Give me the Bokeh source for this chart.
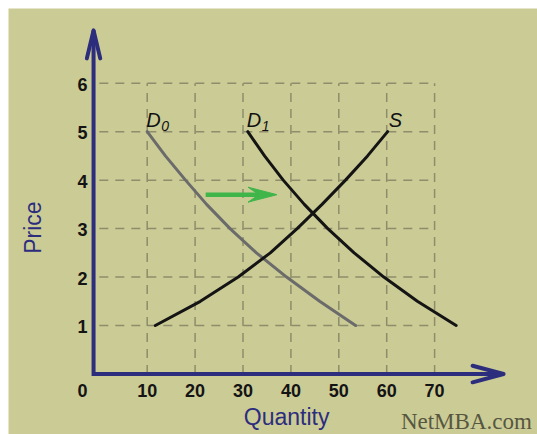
from bokeh.plotting import figure
from bokeh.models import Range1d
from bokeh.core.properties import value
from bokeh.embed import file_html
from bokeh.resources import INLINE

# ---------------- data ----------------
D0_Q = [10.0, 13.8, 18.0, 22.4, 27.3, 32.8, 39.1, 46.0, 53.5]
D0_P = [5.0, 4.5, 4.0, 3.5, 3.0, 2.5, 2.0, 1.5, 1.0]
D1_Q = [31.0, 34.5, 38.4, 42.8, 47.7, 53.2, 59.4, 66.4, 74.5]
D1_P = [5.0, 4.5, 4.0, 3.5, 3.0, 2.5, 2.0, 1.5, 1.0]
S_Q = [11.7, 21.1, 29.0, 35.7, 41.3, 46.5, 51.4, 56.0, 60.2]
S_P = [1.0, 1.5, 2.0, 2.5, 3.0, 3.5, 4.0, 4.5, 5.0]

X_TICKS = [10, 20, 30, 40, 50, 60, 70]
X_LABELS = ["10", "20", "30", "40", "50", "60", "70"]
Y_TICKS = [1, 2, 3, 4, 5, 6]
Y_LABELS = ["1", "2", "3", "4", "5", "6"]
ORIGIN_LABEL = "0"

SHIFT_Q = [22.2, 37.1]   # green shift arrow, quantity from -> to
SHIFT_P = 3.70

# ---------------- layout / style ----------------
W, H = 537, 434
ML, MT = 8, 8
X0, X1 = -18.956, 91.482
Y0, Y1 = -1.248, 7.541
SX = (W - ML) / (X1 - X0)   # px per quantity unit
SY = (H - MT) / (Y1 - Y0)   # px per price unit

AX_X = -1.2          # where the price axis is drawn
X_TIP = 84.4
Y_TIP = 7.09

BG = "#cbcb96"
NAVY = "#2d2d7e"
GRID = "#8d8d6b"
GREEN = "#3fb54a"
FONT = value("Liberation Sans")

p = figure(width=W, height=H, x_range=Range1d(X0, X1), y_range=Range1d(Y0, Y1),
           output_backend="svg", toolbar_location=None,
           min_border_left=ML, min_border_top=MT, min_border_right=0, min_border_bottom=0,
           x_axis_location=None, y_axis_location=None,
           background_fill_color=BG, border_fill_color="white", outline_line_color=None)
p.grid.visible = False

# dashed grid
p.segment(x0=[0] * len(Y_TICKS), x1=[max(X_TICKS)] * len(Y_TICKS), y0=Y_TICKS, y1=Y_TICKS,
          line_color=GRID, line_width=1.5, line_dash="9 7")
p.segment(x0=X_TICKS, x1=X_TICKS, y0=[0] * len(X_TICKS), y1=[max(Y_TICKS)] * len(X_TICKS),
          line_color=GRID, line_width=1.5, line_dash="9 7")

# curves
p.line(D0_Q, D0_P, line_color="#6b6b6b", line_width=3, line_cap="round", line_join="round")
p.line(D1_Q, D1_P, line_color="#141414", line_width=3, line_cap="round", line_join="round")
p.line(S_Q, S_P, line_color="#141414", line_width=3, line_cap="round", line_join="round")

# axes with arrow heads
p.line([AX_X, AX_X, X_TIP], [Y_TIP, 0, 0], line_color=NAVY, line_width=4, line_join="miter")
hw, hl = 6.7, 28
p.line([AX_X - hw / SX, AX_X, AX_X + hw / SX], [Y_TIP - hl / SY, Y_TIP, Y_TIP - hl / SY],
       line_color=NAVY, line_width=4, line_join="round", line_cap="round")
hw, hl = 8.3, 31
p.line([X_TIP - hl / SX, X_TIP, X_TIP - hl / SX], [hw / SY, 0, -hw / SY],
       line_color=NAVY, line_width=4, line_join="round", line_cap="round")

# green shift arrow
p.line([SHIFT_Q[0], SHIFT_Q[1] - 10 / SX], [SHIFT_P, SHIFT_P], line_color=GREEN, line_width=4.5)
tip = SHIFT_Q[1]
p.patch([tip, tip - 29 / SX, tip - 18 / SX, tip - 29 / SX],
        [SHIFT_P, SHIFT_P + 7.5 / SY, SHIFT_P, SHIFT_P - 7.5 / SY],
        fill_color=GREEN, line_color=GREEN, line_width=1)

# tick labels
TICK_STYLE = dict(text_font=FONT, text_font_size=value("18px"), text_font_style="bold",
                  text_color="#141414", text_baseline="middle")
p.text(x=X_TICKS, y=[0] * len(X_TICKS), text=X_LABELS, text_align="center", y_offset=16.5, **TICK_STYLE)
p.text(x=[AX_X] * len(Y_TICKS), y=Y_TICKS, text=Y_LABELS, text_align="right", x_offset=-6, y_offset=1,
       **TICK_STYLE)
p.text(x=[AX_X], y=[0], text=[ORIGIN_LABEL], text_align="right", x_offset=-6, y_offset=16.5, **TICK_STYLE)

# curve labels
p.text(x=[D0_Q[0], D1_Q[0]], y=[D0_P[0], D1_P[0]], text=["D", "D"], text_font=FONT,
       text_font_size=value("20px"), text_font_style="italic", text_color="#111111",
       text_align="left", text_baseline="middle", x_offset=-1, y_offset=-12)
p.text(x=[D0_Q[0], D1_Q[0]], y=[D0_P[0], D1_P[0]], text=["0", "1"], text_font=FONT,
       text_font_size=value("14px"), text_font_style="italic", text_color="#111111",
       text_align="left", text_baseline="middle", x_offset=14, y_offset=-6)
p.text(x=[S_Q[-1]], y=[S_P[-1]], text=["S"], text_font=FONT,
       text_font_size=value("20px"), text_font_style="italic", text_color="#111111",
       text_align="left", text_baseline="middle", x_offset=1, y_offset=-11.5)

# axis titles
p.text(x=[-13.74], y=[3.02], text=["Price"], text_font=FONT, text_font_size=value("23px"),
       text_color=NAVY, text_align="center", text_baseline="middle", angle=1.5708)
p.text(x=[39.1], y=[-0.877], text=["Quantity"], text_font=FONT, text_font_size=value("23px"),
       text_color=NAVY, text_align="center", text_baseline="middle")
p.text(x=[90.3], y=[-0.989], text=["NetMBA.com"], text_font=value("Liberation Serif"),
       text_font_size=value("23px"), text_color="#57573f", text_align="right", text_baseline="middle")

open("out.html", "w").write(file_html(p, INLINE))
